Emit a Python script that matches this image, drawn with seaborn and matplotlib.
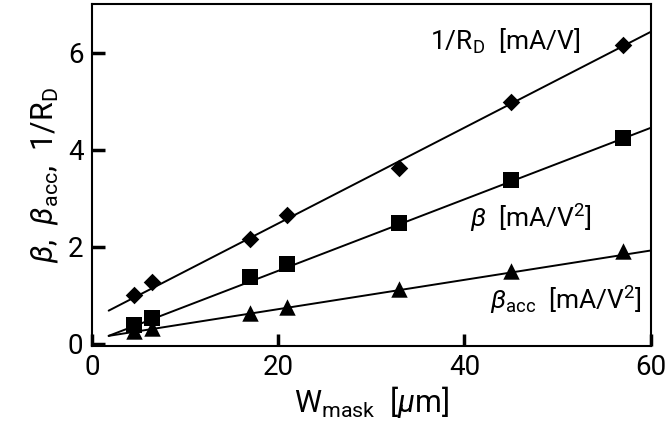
import matplotlib
matplotlib.use("Agg")
import matplotlib.pyplot as plt
import seaborn as sns
import pandas as pd
import numpy as np

# ---- data ----
w_mask = [4.5, 6.5, 17, 21, 33, 45, 57]
inv_rd = [1.00, 1.27, 2.15, 2.65, 3.63, 4.98, 6.15]     # 1/R_D [mA/V]
beta = [0.38, 0.52, 1.37, 1.65, 2.48, 3.37, 4.25]        # beta [mA/V^2]
beta_acc = [0.25, 0.33, 0.63, 0.75, 1.12, 1.50, 1.90]    # beta_acc [mA/V^2]

# linear fit lines (end points)
fit_x = [1.8, 60]
fit_inv_rd = [0.68, 6.43]
fit_beta = [0.16, 4.45]
fit_beta_acc = [0.16, 1.92]

x_ticks = [0, 20, 40, 60]
y_ticks = [0, 2, 4, 6]

sns.set_theme(style="ticks")
plt.rcParams['font.family'] = ['Roboto', 'DejaVu Sans']
plt.rcParams['font.weight'] = 'normal'
plt.rcParams['mathtext.fontset'] = 'custom'
plt.rcParams['mathtext.rm'] = 'Roboto'
plt.rcParams['mathtext.it'] = 'Roboto:italic'
plt.rcParams['mathtext.bf'] = 'Roboto:bold'
plt.rcParams['text.color'] = 'black'
plt.rcParams['axes.labelcolor'] = 'black'
plt.rcParams['axes.labelweight'] = 'normal'

fig = plt.figure(figsize=(6.66, 4.22), dpi=100)
ax = fig.add_axes([0.138, 0.180, 0.839, 0.810])

pts = pd.DataFrame({
    "x": w_mask * 3,
    "y": inv_rd + beta + beta_acc,
    "s": ["rd"] * 7 + ["b"] * 7 + ["ba"] * 7,
})
fits = pd.DataFrame({
    "x": fit_x * 3,
    "y": fit_inv_rd + fit_beta + fit_beta_acc,
    "s": ["rd"] * 2 + ["b"] * 2 + ["ba"] * 2,
})

for key in ["rd", "b", "ba"]:
    sns.lineplot(data=fits[fits.s == key], x="x", y="y", color="black",
                 lw=1.4, ax=ax, legend=False)

marker_map = {"rd": "D", "b": "s", "ba": "^"}
size_map = {"rd": 80, "b": 130, "ba": 140}
for key in ["rd", "b", "ba"]:
    sns.scatterplot(data=pts[pts.s == key], x="x", y="y", marker=marker_map[key],
                    s=size_map[key], color="black", edgecolor="black",
                    linewidth=0, ax=ax, legend=False, zorder=3)

ax.set_xlim(0, 60)
ax.set_ylim(-0.05, 7.0)
ax.set_xticks(x_ticks)
ax.set_yticks(y_ticks)
ax.tick_params(direction="in", length=9, width=2.5, labelsize=20,
               top=False, right=False, pad=6, colors="black")
for sp in ax.spines.values():
    sp.set_linewidth(1.5)
    sp.set_color("black")

ax.set_xlabel(r"W$_{\mathrm{mask}}$  [$\mu$m]", fontsize=22, labelpad=2, fontweight="normal")
ax.set_ylabel(r"$\beta$,  $\beta_{\mathrm{acc}}$,  $1/\mathrm{R}_{\mathrm{D}}$", fontsize=22,
              labelpad=6, fontweight="normal")

ax.text(36.3, 6.23, r"$1/\mathrm{R}_{\mathrm{D}}$  [mA/V]", fontsize=19, va="center", ha="left")
ax.text(40.6, 2.6, r"$\beta$  [mA/V$^2$]", fontsize=19, va="center", ha="left")
ax.text(42.7, 0.9, r"$\beta_{\mathrm{acc}}$  [mA/V$^2$]", fontsize=19, va="center", ha="left")

fig.savefig("out.png", dpi=100)
